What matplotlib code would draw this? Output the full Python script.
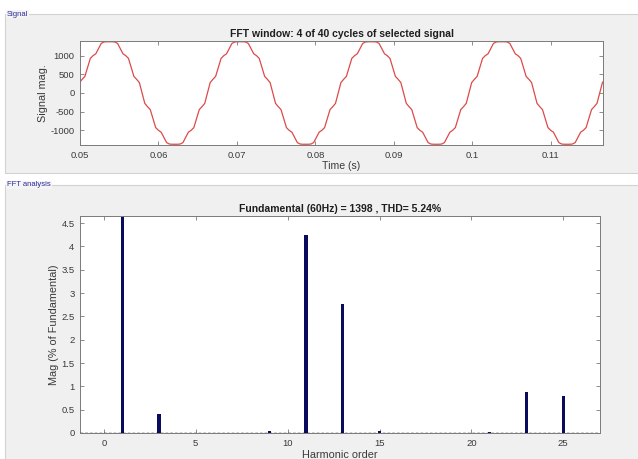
import matplotlib.pyplot as plt
import numpy as np
from matplotlib.patches import Rectangle
from matplotlib.ticker import FuncFormatter

# one 60 Hz cycle of the signal, 48 samples 7.5 deg apart
cycle_values = [0, 279, 367, 445, 688, 929, 1002, 1051, 1192, 1330, 1369, 1375,
                1376, 1375, 1369, 1330, 1192, 1051, 1002, 929, 688, 445, 367, 279,
                0, -279, -367, -445, -688, -929, -1002, -1051, -1192, -1330, -1369, -1375,
                -1376, -1375, -1369, -1330, -1192, -1051, -1002, -929, -688, -445, -367, -279]
cycle_start = 0.04958  # rising zero crossing just before the window
n_cycles = 5

time_ticks = [0.05, 0.06, 0.07, 0.08, 0.09, 0.10, 0.11]
signal_ticks = [-1000, -500, 0, 500, 1000]

harmonic_order = [1, 3, 9, 11, 13, 15, 21, 23, 25]
harmonic_mag = [100, 0.41, 0.05, 4.24, 2.76, 0.04, 0.02, 0.87, 0.80]
order_ticks = [0, 5, 10, 15, 20, 25]
mag_ticks = [0, 0.5, 1, 1.5, 2, 2.5, 3, 3.5, 4, 4.5]

W, H = 638, 459
TEXT = "#3a3a3a"
EDGE = "#7a7a7a"
plt.rcParams["font.family"] = ["Liberation Sans", "DejaVu Sans"]

fig = plt.figure(figsize=(W / 100, H / 100), dpi=100, facecolor="white")


def box(x0, y0, x1, y1):
    # pixel box (top-left origin) -> figure fraction rect
    return [x0 / W, 1 - y1 / H, (x1 - x0) / W, (y1 - y0) / H]


def panel(x0, y0, x1, y1, label):
    r = box(x0, y0, x1, y1)
    fig.patches.append(Rectangle((r[0], r[1]), r[2], r[3], transform=fig.transFigure,
                                 facecolor="#f0f0f0", edgecolor="#d2d2d2", lw=0.8,
                                 zorder=-10))
    fig.text((x0 + 2) / W, 1 - y0 / H, label, fontsize=5.5, color="#2b2ba0",
             va="center", ha="left", zorder=-5,
             bbox=dict(facecolor="#f4f4f4", edgecolor="none", pad=0.6))


panel(5, 14, 645, 173, "Signal")
panel(5, 185, 645, 470, "FFT analysis")


def style(ax):
    ax.set_facecolor("white")
    for s in ax.spines.values():
        s.set_color(EDGE)
        s.set_linewidth(0.7)
    ax.tick_params(direction="in", length=3, width=0.6, top=True, right=True,
                   colors=EDGE, labelcolor=TEXT, labelsize=6.8, pad=4)
    fmt = FuncFormatter(lambda v, p: f"{v:g}")
    ax.xaxis.set_major_formatter(fmt)
    ax.yaxis.set_major_formatter(fmt)


# signal window
ax1 = fig.add_axes(box(80, 41, 603, 145))
style(ax1)
sig = np.append(np.tile(cycle_values, n_cycles), 0)
t = cycle_start + np.arange(len(sig)) / 60 / len(cycle_values)
ax1.plot(t, sig, color="#dc4a4a", lw=0.9)
ax1.set_xlim(0.05, 0.05 + 4 / 60)
ax1.set_ylim(-1395, 1395)
ax1.set_xticks(time_ticks)
ax1.set_yticks(signal_ticks)
ax1.set_title("FFT window: 4 of 40 cycles of selected signal", fontsize=7.5,
              fontweight="bold", color="#1e1e1e", pad=3)
ax1.set_xlabel("Time (s)", fontsize=7.6, color=TEXT, labelpad=1)
ax1.set_ylabel("Signal mag.", fontsize=7.8, color=TEXT, labelpad=2)

# harmonic spectrum
ax2 = fig.add_axes(box(80, 216, 600, 433))
style(ax2)
ax2.bar(harmonic_order, harmonic_mag, width=0.18, color="#0b0b5e", zorder=2)
ax2.axhline(0, color="black", lw=1.0, ls=(0, (2, 1.4)), zorder=3)
ax2.set_xlim(-1.3, 27)
ax2.set_ylim(0, 4.653)
ax2.set_xticks(order_ticks)
ax2.set_yticks(mag_ticks)
ax2.set_title("Fundamental (60Hz) = 1398 , THD= 5.24%", fontsize=7.5,
              fontweight="bold", color="#1e1e1e", pad=3)
ax2.set_xlabel("Harmonic order", fontsize=7.8, color=TEXT, labelpad=1.5)
ax2.set_ylabel("Mag (% of Fundamental)", fontsize=7.8, color=TEXT, labelpad=1.5)

fig.savefig("out.png", dpi=100)
